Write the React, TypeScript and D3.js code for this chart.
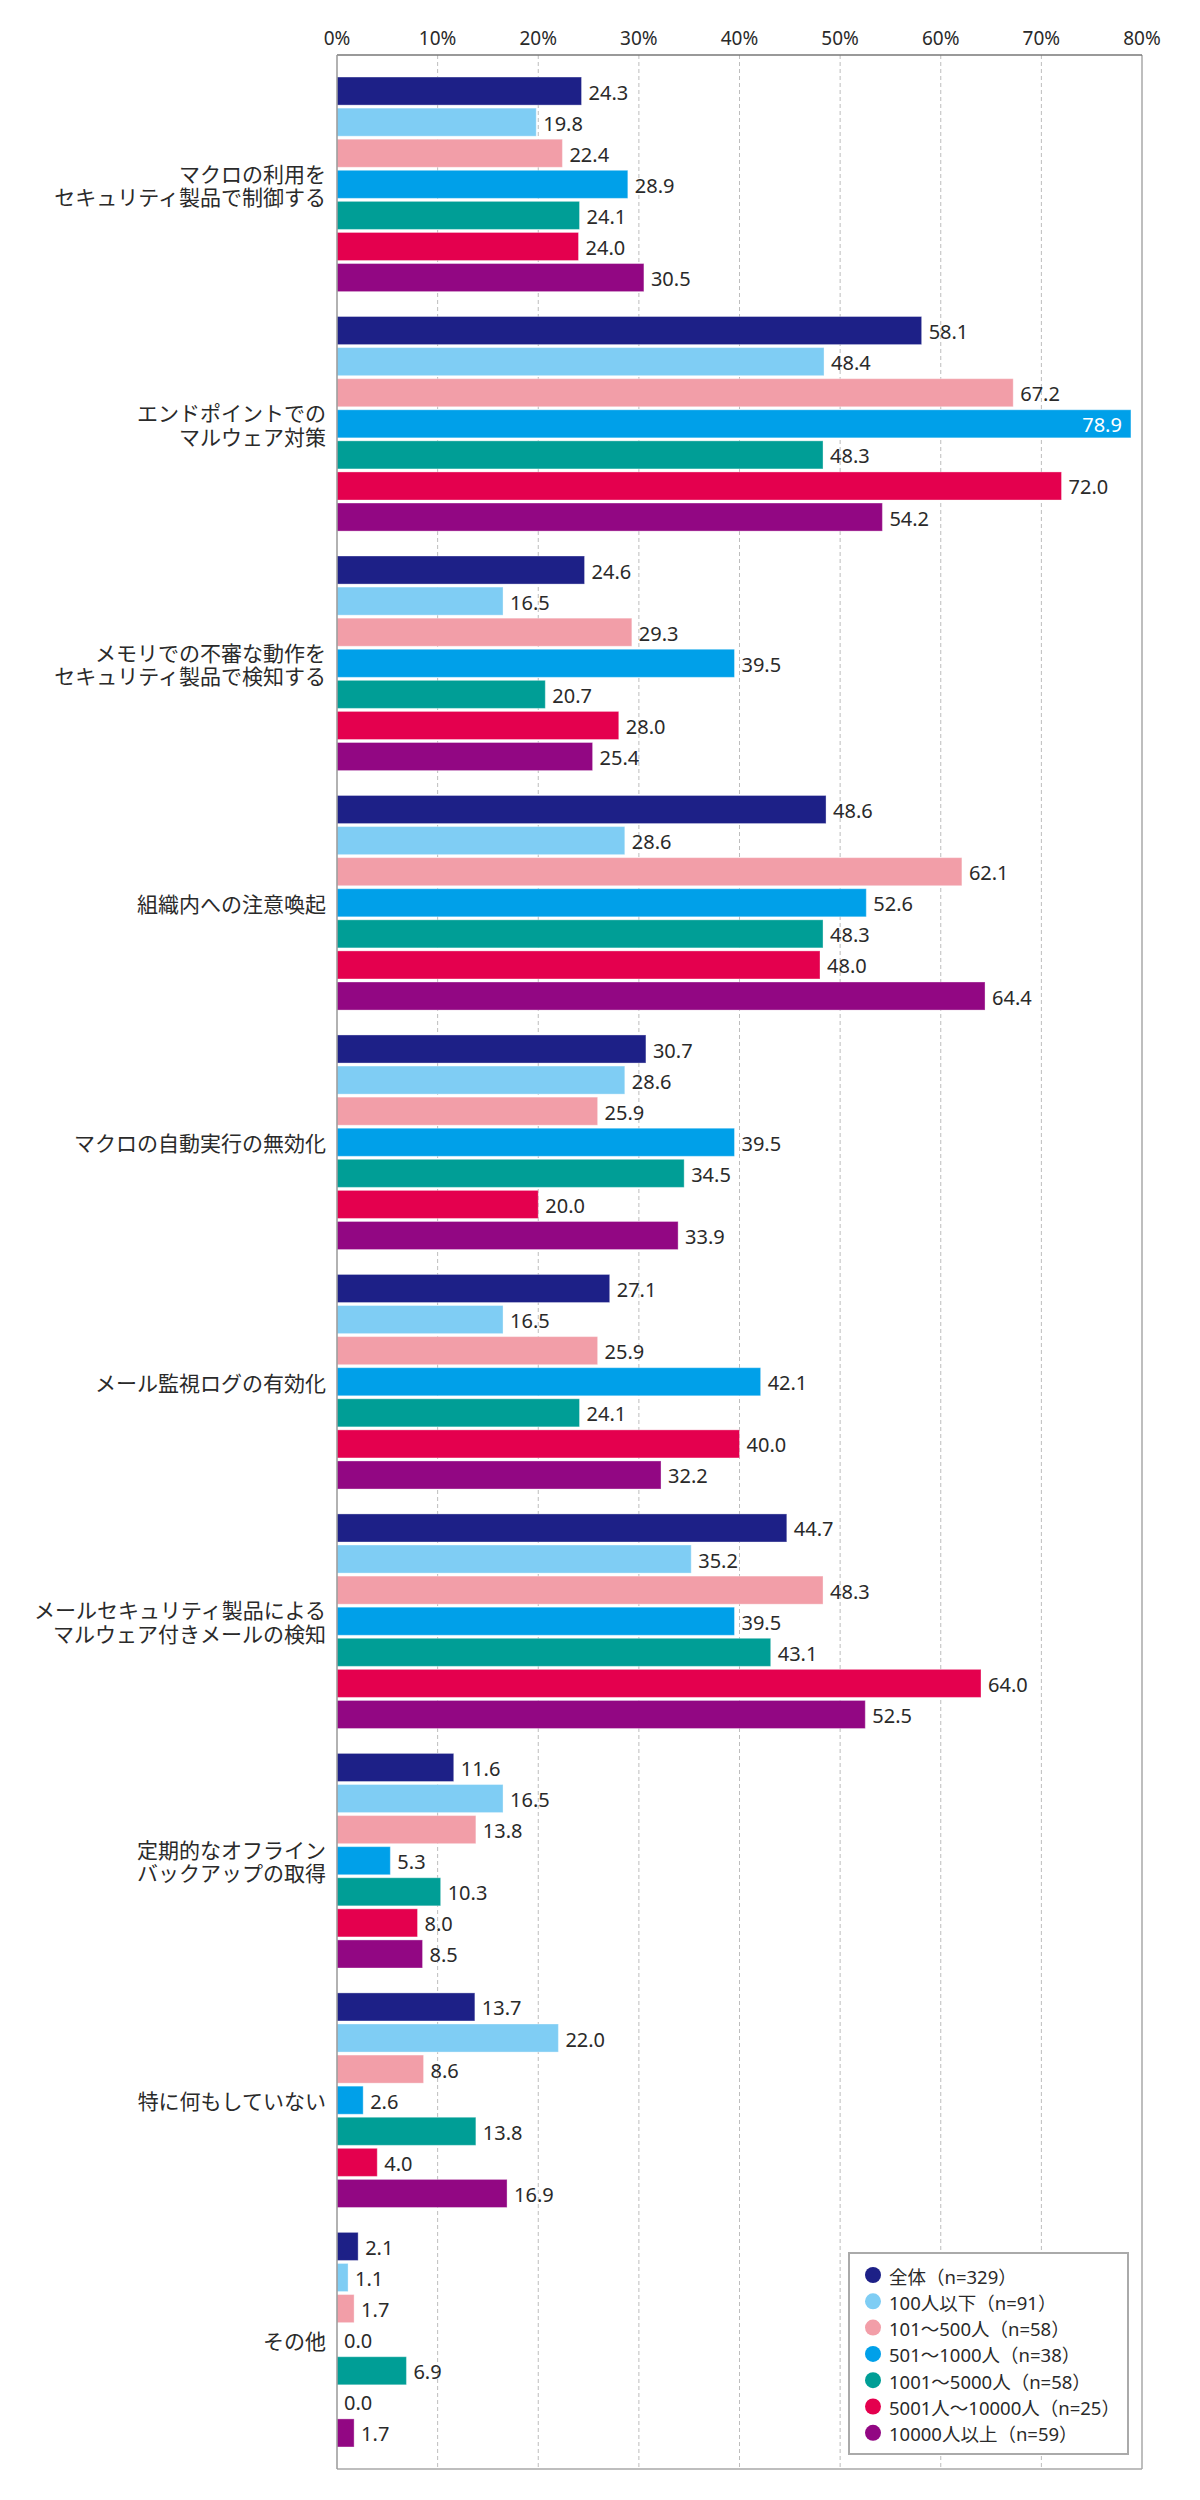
import * as d3 from "d3";
import { useMemo } from "react";

const W = 1200;
const H = 2500;
const M = { top: 55, right: 58, bottom: 31, left: 337 };

const categories = [
  "マクロの利用を\nセキュリティ製品で制御する",
  "エンドポイントでの\nマルウェア対策",
  "メモリでの不審な動作を\nセキュリティ製品で検知する",
  "組織内への注意喚起",
  "マクロの自動実行の無効化",
  "メール監視ログの有効化",
  "メールセキュリティ製品による\nマルウェア付きメールの検知",
  "定期的なオフライン\nバックアップの取得",
  "特に何もしていない",
  "その他",
];

const seriesNames = [
  "全体（n=329）",
  "100人以下（n=91）",
  "101～500人（n=58）",
  "501～1000人（n=38）",
  "1001～5000人（n=58）",
  "5001人～10000人（n=25）",
  "10000人以上（n=59）",
];

const seriesColors = ["#1d2087", "#7fcdf4", "#f29ea8", "#00a0e9", "#009e96", "#e4004e", "#920783"];

// one array per series, in category order
const allValues = [24.3, 58.1, 24.6, 48.6, 30.7, 27.1, 44.7, 11.6, 13.7, 2.1];
const under100 = [19.8, 48.4, 16.5, 28.6, 28.6, 16.5, 35.2, 16.5, 22.0, 1.1];
const s101to500 = [22.4, 67.2, 29.3, 62.1, 25.9, 25.9, 48.3, 13.8, 8.6, 1.7];
const s501to1000 = [28.9, 78.9, 39.5, 52.6, 39.5, 42.1, 39.5, 5.3, 2.6, 0.0];
const s1001to5000 = [24.1, 48.3, 20.7, 48.3, 34.5, 24.1, 43.1, 10.3, 13.8, 6.9];
const s5001to10000 = [24.0, 72.0, 28.0, 48.0, 20.0, 40.0, 64.0, 8.0, 4.0, 0.0];
const over10000 = [30.5, 54.2, 25.4, 64.4, 33.9, 32.2, 52.5, 8.5, 16.9, 1.7];

const seriesValues = [allValues, under100, s101to500, s501to1000, s1001to5000, s5001to10000, over10000];

const xTickValues = [0, 10, 20, 30, 40, 50, 60, 70, 80];

const LATIN = "'Noto Sans', 'Noto Sans CJK JP', sans-serif";
const CJK = "'Noto Sans CJK JP', 'Noto Sans', sans-serif";
const INK = "#2a2a2a";

export default function App() {
  const x = useMemo(
    () => d3.scaleLinear().domain([0, 80]).range([M.left, W - M.right]),
    [],
  );
  const y = useMemo(
    () =>
      d3
        .scaleBand<string>()
        .domain(categories)
        .range([M.top, H - M.bottom])
        .paddingInner(0.104)
        .paddingOuter(0.092),
    [],
  );
  const ySub = useMemo(
    () =>
      d3
        .scaleBand<number>()
        .domain(d3.range(seriesNames.length))
        .range([0, y.bandwidth()])
        .paddingInner(0.097)
        .paddingOuter(0),
    [y],
  );

  const plotTop = M.top;
  const plotBottom = H - M.bottom;
  const plotRight = W - M.right;

  // legend box, bottom right inside the plot
  const lg = { x: 849, y: 2253, w: 279, h: 201, row: 26.3 };

  return (
    <svg
      width={W}
      height={H}
      viewBox={`0 0 ${W} ${H}`}
      style={{ position: "absolute", left: 0, top: 0, background: "#fff" }}
    >
      <rect x={0} y={0} width={W} height={H} fill="#fff" />

      {/* dashed gridlines */}
      {xTickValues.slice(1, -1).map((t) => (
        <line
          key={`g${t}`}
          x1={x(t)}
          x2={x(t)}
          y1={plotTop}
          y2={plotBottom}
          stroke="#bdbdbd"
          strokeWidth={1}
          strokeDasharray="4 3"
        />
      ))}

      {/* tick labels along the top */}
      {xTickValues.map((t) => (
        <text
          key={`t${t}`}
          x={x(t)}
          y={45}
          textAnchor="middle"
          fontSize={19}
          fontFamily={LATIN}
          fill={INK}
        >
          {t}%
        </text>
      ))}

      {/* bars + value labels */}
      {categories.map((c, ci) => {
        const y0 = y(c) ?? 0;
        return (
          <g key={c}>
            {seriesValues.map((vals, si) => {
              const v = vals[ci];
              const by = y0 + (ySub(si) ?? 0);
              const bh = ySub.bandwidth();
              const xe = x(v);
              const inside = v > 74;
              return (
                <g key={si}>
                  {v > 0 && (
                    <rect
                      x={x(0)}
                      y={by}
                      width={xe - x(0)}
                      height={bh}
                      fill={seriesColors[si]}
                      stroke="#ffffff"
                      strokeOpacity={0.35}
                      strokeWidth={1}
                    />
                  )}
                  <text
                    x={inside ? xe - 9 : xe + 7}
                    y={by + bh / 2 + 1}
                    textAnchor={inside ? "end" : "start"}
                    dominantBaseline="central"
                    fontSize={20}
                    fontFamily={LATIN}
                    fill={inside ? "#ffffff" : INK}
                  >
                    {v.toFixed(1)}
                  </text>
                </g>
              );
            })}
          </g>
        );
      })}

      {/* category labels, one text per line */}
      {categories.map((c) => {
        const lines = c.split("\n");
        const cy = (y(c) ?? 0) + y.bandwidth() / 2;
        const lh = 23.5;
        return (
          <g key={`l${c}`}>
            {lines.map((ln, i) => (
              <text
                key={i}
                x={326}
                y={cy + (i - (lines.length - 1) / 2) * lh}
                textAnchor="end"
                dominantBaseline="central"
                fontSize={21}
                fontFamily={CJK}
                fill={INK}
              >
                {ln}
              </text>
            ))}
          </g>
        );
      })}

      {/* frame */}
      <line x1={plotRight} x2={plotRight} y1={plotTop} y2={plotBottom} stroke="#a8a8a8" strokeWidth={1.5} />
      <line x1={M.left} x2={plotRight} y1={plotBottom} y2={plotBottom} stroke="#a8a8a8" strokeWidth={1.5} />
      <line x1={M.left} x2={plotRight} y1={plotTop} y2={plotTop} stroke="#777" strokeWidth={1.5} />
      <line x1={M.left} x2={M.left} y1={plotTop} y2={plotBottom} stroke="#999" strokeWidth={1.5} />

      {/* legend */}
      <rect x={lg.x} y={lg.y} width={lg.w} height={lg.h} fill="#fff" stroke="#aaaaaa" strokeWidth={2} />
      {seriesNames.map((n, i) => {
        const cy = lg.y + 22 + i * lg.row;
        return (
          <g key={n}>
            <circle cx={lg.x + 24} cy={cy} r={8} fill={seriesColors[i]} />
            <text
              x={lg.x + 40}
              y={cy + 1}
              dominantBaseline="central"
              fontSize={18.5}
              fontFamily={LATIN}
              fill={INK}
            >
              {n}
            </text>
          </g>
        );
      })}
    </svg>
  );
}
